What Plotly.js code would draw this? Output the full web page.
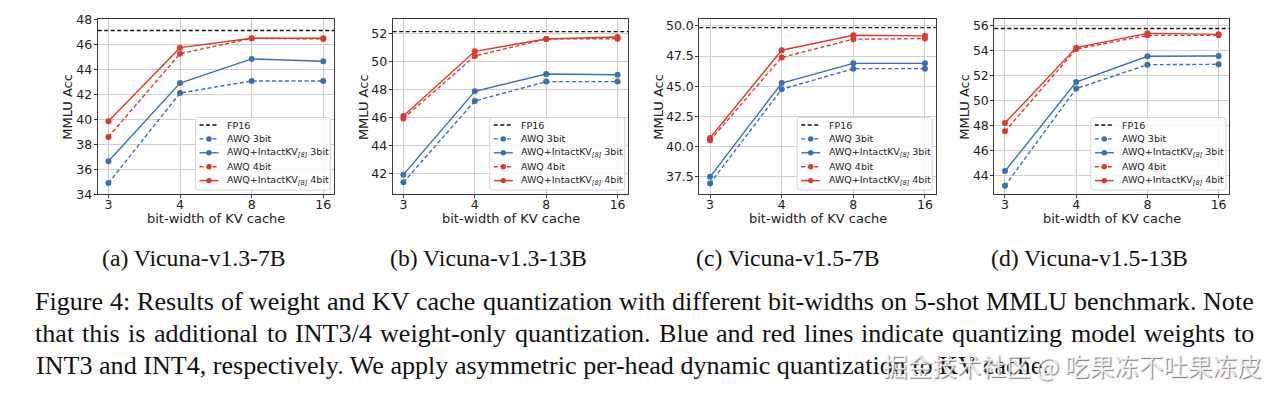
<!DOCTYPE html>
<html>
<head>
<meta charset="utf-8">
<script src="https://cdn.plot.ly/plotly-3.0.1.min.js"></script>
<style>html,body{margin:0;padding:0;background:#fff;}#chart{width:1280px;height:394px;}</style>
</head>
<body>
<div id="chart"></div>
<script>
// ---- data ----
const bitWidths = ["3", "4", "8", "16"];
const subCaptions = ["(a) Vicuna-v1.3-7B", "(b) Vicuna-v1.3-13B", "(c) Vicuna-v1.5-7B", "(d) Vicuna-v1.5-13B"];
const fp16 = [47.1, 52.12, 49.86, 55.75];
const awq3bit = [
  [34.9, 42.1, 43.07, 43.07],
  [41.38, 47.18, 48.56, 48.56],
  [36.95, 44.75, 46.46, 46.46],
  [43.2, 50.95, 52.86, 52.89]
];
const intact3bit = [
  [36.64, 42.9, 44.83, 44.64],
  [41.93, 47.87, 49.1, 49.05],
  [37.5, 45.27, 46.9, 46.9],
  [44.37, 51.48, 53.53, 53.55]
];
const awq4bit = [
  [38.59, 45.25, 46.48, 46.43],
  [45.94, 50.38, 51.6, 51.62],
  [40.52, 47.39, 48.9, 48.96],
  [47.54, 54.11, 55.2, 55.2]
];
const intact4bit = [
  [39.84, 45.73, 46.48, 46.48],
  [46.11, 50.72, 51.6, 51.74],
  [40.71, 47.99, 49.23, 49.18],
  [48.2, 54.22, 55.36, 55.28]
];
const yRanges = [[34, 48], [40.53, 53.0], [36.05, 50.55], [42.52, 56.48]];
const yTicks = [[34,36,38,40,42,44,46,48],[42,44,46,48,50,52],[37.5,40,42.5,45,47.5,50],[44,46,48,50,52,54,56]];
const legendLabels = ["FP16", "AWQ 3bit", "AWQ+IntactKV<sub><i>[8]</i></sub> 3bit", "AWQ 4bit", "AWQ+IntactKV<sub><i>[8]</i></sub> 4bit"];
const captionLines = [
  "Figure 4: Results of weight and KV cache quantization with different bit-widths on 5-shot MMLU benchmark. Note",
  "that this is additional to INT3/4 weight-only quantization. Blue and red lines indicate quantizing model weights to",
  "INT3 and INT4, respectively. We apply asymmetric per-head dynamic quantization to KV cache."
];
const watermark = "掘金技术社区 @ 吃果冻不吐果冻皮";

// ---- layout geometry (px) ----
const W = 1280, H = 394;
const plotLeft = [97.7, 392.7, 699.3, 994.3];
const plotRight = [334, 628.3, 935.7, 1229.3];
const yTitleX = [68, 363.3, 659, 965];
const subCapX = [194, 488.4, 788.4, 1089.6];
const plotTop = 19.3, plotBottom = 194.3;
const BLUE = "#3a70b3", RED = "#e2372c", BLACK = "#111";
const px = x => x / W, py = y => 1 - y / H;

const seriesDefs = [
  {data: awq3bit, color: BLUE, dash: "4px,2.5px"},
  {data: intact3bit, color: BLUE, dash: "solid"},
  {data: awq4bit, color: RED, dash: "4px,2.5px"},
  {data: intact4bit, color: RED, dash: "solid"}
];

const traces = [], shapes = [], annotations = [];
const layout = {
  width: W, height: H, margin: {l: 0, r: 0, t: 0, b: 0},
  paper_bgcolor: "#fff", plot_bgcolor: "#fff", showlegend: false,
  font: {family: "DejaVu Sans", color: "#222"}
};

for (let i = 0; i < 4; i++) {
  const sfx = i === 0 ? "" : String(i + 1);
  const xa = "x" + sfx, ya = "y" + sfx;
  layout["xaxis" + sfx] = {
    domain: [px(plotLeft[i]), px(plotRight[i])], anchor: ya,
    type: "category", categoryorder: "array", categoryarray: bitWidths,
    range: [-0.15, 3.15], showgrid: true, gridcolor: "#cfcfcf", gridwidth: 1,
    showline: true, linecolor: "#3a3a3a", linewidth: 1, mirror: true,
    ticks: "outside", ticklen: 3, tickcolor: "#3a3a3a", ticklabelstandoff: -4,
    tickfont: {family: "DejaVu Sans", size: 12.5, color: "#222"}, zeroline: false, fixedrange: true
  };
  layout["yaxis" + sfx] = {
    domain: [py(plotBottom), py(plotTop)], anchor: xa,
    range: yRanges[i], tickmode: "array", tickvals: yTicks[i],
    ticktext: yTicks[i].map(v => i === 2 ? v.toFixed(1) : String(v)),
    showgrid: true, gridcolor: "#cfcfcf", gridwidth: 1,
    showline: true, linecolor: "#3a3a3a", linewidth: 1, mirror: true,
    ticks: "outside", ticklen: 3, tickcolor: "#3a3a3a", ticklabelstandoff: -1,
    tickfont: {family: "DejaVu Sans", size: 12.5, color: "#222"}, zeroline: false, fixedrange: true
  };
  // FP16 reference line
  shapes.push({type: "line", xref: xa + " domain", yref: ya, x0: 0, x1: 1, y0: fp16[i], y1: fp16[i],
    line: {color: BLACK, width: 1.4, dash: "4px,2.5px"}, layer: "above"});
  // series
  seriesDefs.forEach((s, k) => {
    traces.push({
      type: "scatter", mode: "lines+markers", x: bitWidths, y: s.data[i], xaxis: xa, yaxis: ya,
      name: legendLabels[k + 1], line: {color: s.color, width: 1.4, dash: s.dash},
      marker: {color: s.color, size: 6, symbol: "circle"}, hoverinfo: "skip", cliponaxis: false
    });
  });
  // axis titles
  const cx = (plotLeft[i] + plotRight[i]) / 2;
  annotations.push({xref: "paper", yref: "paper", x: px(cx), y: py(218.5), text: "bit-width of KV cache",
    showarrow: false, xanchor: "center", yanchor: "middle", font: {family: "DejaVu Sans", size: 13, color: "#222"}});
  annotations.push({xref: "paper", yref: "paper", x: px(yTitleX[i]), y: py((plotTop + plotBottom) / 2),
    text: "MMLU Acc", textangle: -90, showarrow: false, xanchor: "center", yanchor: "middle",
    font: {family: "DejaVu Sans", size: 13, color: "#222"}});
  // sub captions
  annotations.push({xref: "paper", yref: "paper", x: px(subCapX[i]), y: py(258),
    text: subCaptions[i], showarrow: false, xanchor: "center", yanchor: "middle",
    font: {family: "Liberation Serif", size: 23.7, color: "#111"}});
  // legend box
  const bR = plotRight[i] - 3.5, bL = bR - 135, bT = 117.5, bB = 190, r = 2.5;
  const path = `M ${px(bL + r)} ${py(bT)} L ${px(bR - r)} ${py(bT)} Q ${px(bR)} ${py(bT)} ${px(bR)} ${py(bT + r)} ` +
    `L ${px(bR)} ${py(bB - r)} Q ${px(bR)} ${py(bB)} ${px(bR - r)} ${py(bB)} L ${px(bL + r)} ${py(bB)} ` +
    `Q ${px(bL)} ${py(bB)} ${px(bL)} ${py(bB - r)} L ${px(bL)} ${py(bT + r)} Q ${px(bL)} ${py(bT)} ${px(bL + r)} ${py(bT)} Z`;
  shapes.push({type: "path", xref: "paper", yref: "paper", path: path,
    fillcolor: "rgba(255,255,255,0.85)", line: {color: "#d6d6d6", width: 1}, layer: "above"});
  const rows = [125, 138.9, 152.8, 166.7, 180.6];
  const hx0 = bL + 4, hx1 = bL + 23;
  const handleDefs = [{color: BLACK, dash: "4px,2.5px", marker: false}].concat(seriesDefs.map(s => ({color: s.color, dash: s.dash, marker: true})));
  handleDefs.forEach((h, k) => {
    shapes.push({type: "line", xref: "paper", yref: "paper", x0: px(hx0), x1: px(hx1), y0: py(rows[k]), y1: py(rows[k]),
      line: {color: h.color, width: 1.4, dash: h.dash}, layer: "above"});
    if (h.marker) {
      const mx = (hx0 + hx1) / 2, rr = 2.7;
      shapes.push({type: "circle", xref: "paper", yref: "paper", x0: px(mx - rr), x1: px(mx + rr), y0: py(rows[k] - rr), y1: py(rows[k] + rr),
        fillcolor: h.color, line: {width: 0}, layer: "above"});
    }
    annotations.push({xref: "paper", yref: "paper", x: px(bL + 29.5), y: py(rows[k]), text: legendLabels[k],
      showarrow: false, xanchor: "left", yanchor: "middle", font: {family: "DejaVu Sans", size: 9.5, color: "#222"}});
  });
}

// figure caption (first two lines justified, last line left aligned)
const capFont = 26.1, capLeft = 33.9, capRight = 1253;
const lineY = [301.7, 333.3, 365];
const ctx = document.createElement("canvas").getContext("2d");
ctx.font = capFont + "px 'Liberation Serif'";
captionLines.forEach((t, k) => {
  const capStyle = {family: "Liberation Serif", size: capFont, color: "#111"};
  if (k < captionLines.length - 1) {
    const words = t.split(" ");
    const widths = words.map(w => ctx.measureText(w).width);
    const total = widths.reduce((a, b) => a + b, 0);
    const gap = (capRight - capLeft - total) / (words.length - 1);
    let x = capLeft;
    words.forEach((w, j) => {
      annotations.push({xref: "paper", yref: "paper", x: px(x), y: py(lineY[k]), text: w, showarrow: false,
        xanchor: "left", yanchor: "middle", borderpad: 0, font: capStyle});
      x += widths[j] + gap;
    });
  } else {
    annotations.push({xref: "paper", yref: "paper", x: px(capLeft), y: py(lineY[k]), text: t, showarrow: false,
      xanchor: "left", yanchor: "middle", font: capStyle});
  }
});
// watermark
annotations.push({xref: "paper", yref: "paper", x: px(881), y: py(365), text: watermark, showarrow: false,
  xanchor: "left", yanchor: "middle",
  font: {family: "Noto Sans CJK SC", size: 24.6, color: "rgba(252,252,252,0.85)", shadow: "1px 1px 1px #666"}});

layout.shapes = shapes;
layout.annotations = annotations;
Plotly.newPlot("chart", traces, layout, {staticPlot: true, displayModeBar: false});
</script>
</body>
</html>
